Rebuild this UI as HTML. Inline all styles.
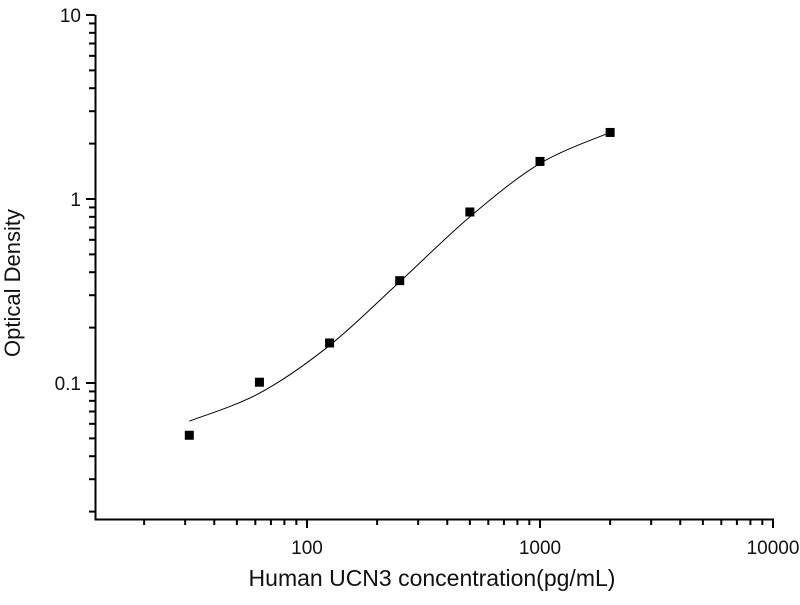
<!DOCTYPE html>
<html><head><meta charset="utf-8"><style>
body{margin:0;background:#fff}
svg text{font-family:"Liberation Sans",Arial,sans-serif;fill:#111}
</style></head><body>
<svg id="s" width="800" height="600" xmlns="http://www.w3.org/2000/svg">
<g id="g" stroke="#000" fill="none"></g>
<g id="t"></g>
</svg>
<script>
const NS="http://www.w3.org/2000/svg";
const g=document.getElementById('g'),t=document.getElementById('t');
const X=v=>307+233*(Math.log10(v)-2);
const Y=v=>383-184*(Math.log10(v)+1);
function el(p,tag,a,txt){const e=document.createElementNS(NS,tag);for(const k in a)e.setAttribute(k,a[k]);if(txt)e.textContent=txt;p.appendChild(e);return e;}
el(g,'path',{d:'M95.5,15 V519.5 H774','stroke-width':2});
for(let d=10;d<=1000;d*=10)for(let m=1;m<=9;m++){const v=d*m;if(v<13||v>10000)continue;const x=X(v);el(g,'line',{x1:x,x2:x,y1:519,y2:(m==1?528:525),'stroke-width':2});}
el(g,'line',{x1:X(10000),x2:X(10000),y1:519,y2:528,'stroke-width':2});
for(let d=0.01;d<=1.001;d*=10)for(let m=1;m<=9;m++){const v=d*m;if(Y(v)>519)continue;const y=Y(v);el(g,'line',{x1:95,x2:(m==1?86:89),y1:y,y2:y,'stroke-width':2});}
el(g,'line',{x1:95,x2:86,y1:Y(10),y2:Y(10),'stroke-width':2});
[[100,'100'],[1000,'1000'],[10000,'10000']].forEach(([v,s])=>el(t,'text',{x:X(v),y:554,'font-size':19,'text-anchor':'middle'},s));
[[10,'10'],[1,'1'],[0.1,'0.1']].forEach(([v,s])=>el(t,'text',{x:81,y:Y(v)+7,'font-size':19,'text-anchor':'end'},s));
el(t,'text',{x:432,y:586,'font-size':23,'text-anchor':'middle'},'Human UCN3 concentration(pg/mL)');
el(t,'text',{x:0,y:0,'font-size':22,'text-anchor':'middle',transform:'translate(20,283) rotate(-90)'},'Optical Density');
const cp=[[31.25,0.062],[62.5,0.088],[125,0.16],[250,0.355],[500,0.8],[1000,1.56],[2000,2.3]].map(p=>[X(p[0]),Y(p[1])]);
let d='M'+cp[0];
for(let i=0;i<cp.length-1;i++){const p0=cp[i-1]||cp[i],p1=cp[i],p2=cp[i+1],p3=cp[i+2]||p2;
const c1=[p1[0]+(p2[0]-p0[0])/6,p1[1]+(p2[1]-p0[1])/6],c2=[p2[0]-(p3[0]-p1[0])/6,p2[1]-(p3[1]-p1[1])/6];
d+=' C'+c1+' '+c2+' '+p2;}
el(g,'path',{d:d,'stroke-width':1});
[[31.25,0.052],[62.5,0.101],[125,0.165],[250,0.36],[500,0.85],[1000,1.6],[2000,2.3]].forEach(p=>el(t,'rect',{x:X(p[0])-4.5,y:Y(p[1])-4.5,width:9,height:9,fill:'#000'}));
</script>
</body></html>
